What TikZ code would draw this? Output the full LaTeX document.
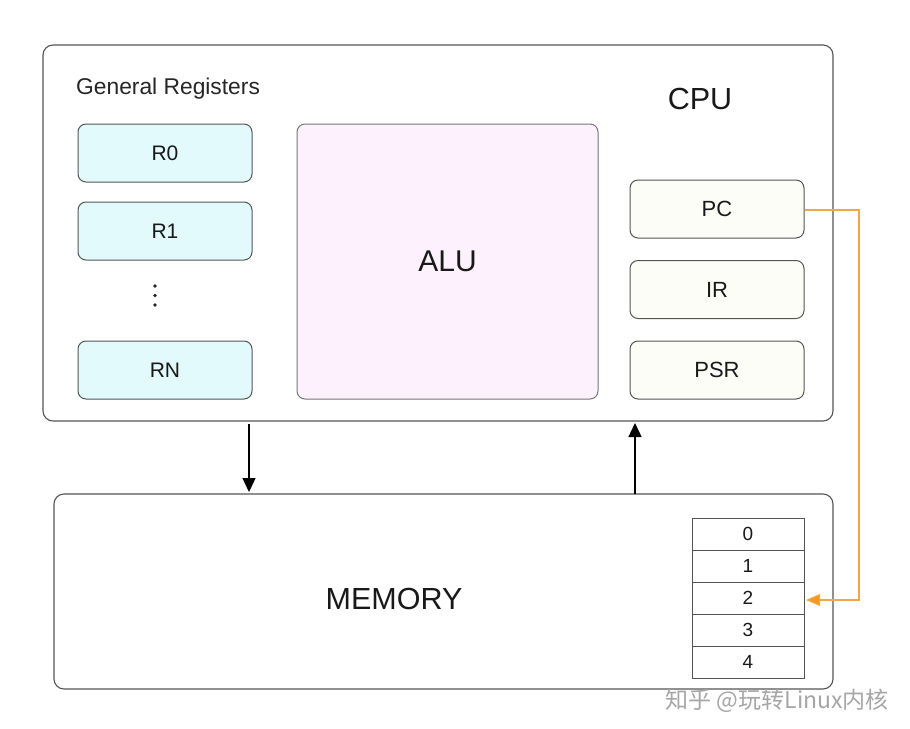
\documentclass[tikz,border=0pt]{standalone}
\usepackage{fontspec}
\setmainfont{Liberation Sans}
\newfontfamily\cjk{Noto Sans CJK SC}
\usetikzlibrary{arrows.meta}
\definecolor{regfill}{HTML}{E2FAFC}
\definecolor{alufill}{HTML}{FCF1FC}
\definecolor{ctlfill}{HTML}{FDFDF8}
\definecolor{edge}{HTML}{555555}
\definecolor{orangeline}{HTML}{F5A64A}
\definecolor{orangetip}{HTML}{F29A1F}
\tikzset{
  outerbox/.style={draw=edge, line width=1.1pt, rounded corners=10pt, fill=white},
  regbox/.style={draw=edge, line width=1pt, rounded corners=8pt, fill=regfill, minimum width=174pt, minimum height=58pt, inner sep=0pt, font=\fontsize{21}{24}\selectfont, text=black!90},
  ctlbox/.style={regbox, fill=ctlfill, font=\fontsize{22}{24}\selectfont},
  alubox/.style={draw=edge!80, line width=1pt, rounded corners=8pt, fill=alufill, minimum width=301pt, minimum height=275pt, inner sep=0pt, font=\fontsize{30}{34}\selectfont, text=black!90},
  cell/.style={draw=edge, line width=1pt, fill=white, minimum width=112pt, minimum height=32pt, inner sep=0pt, font=\fontsize{19}{22}\selectfont, text=black!90},
  bigtxt/.style={font=\fontsize{30.5}{34}\selectfont, text=black!90, inner sep=0pt},
  dot/.style={circle, fill=black!85, inner sep=0pt, minimum size=3.8pt},
  bus/.style={line width=1.4pt, -{Triangle[length=14pt,width=13pt]}},
  pcline/.style={orangeline, line width=1.2pt, -{Triangle[length=14pt,width=12pt,fill=orangetip]}}
}
\begin{document}
\begin{tikzpicture}[x=1pt,y=-1pt]
\useasboundingbox[fill=white] (0,0) rectangle (910,728);
% outer boxes
\node[outerbox, minimum width=790pt, minimum height=376pt, inner sep=0pt] (cpu) at (438,233) {};
\node[outerbox, minimum width=779pt, minimum height=195pt, inner sep=0pt] (mem) at (443.5,591.5) {};
% labels
\node[font=\fontsize{22.8}{26}\selectfont, text=black!85, anchor=west, inner sep=0pt] (gr) at (76,89) {General Registers};
\node[bigtxt] (cpulabel) at (700,99) {CPU};
\node[bigtxt] (memlabel) at (394,599) {MEMORY};
% registers
\node[regbox] (r0) at (165,153) {R0};
\node[regbox] (r1) at (165,231) {R1};
\node[dot] (d1) at (155,286) {};
\node[dot] (d2) at (155,295.5) {};
\node[dot] (d3) at (155,305) {};
\node[regbox] (rn) at (165,370) {RN};
% ALU
\node[alubox] (alu) at (447.5,261.5) {ALU};
% control registers
\node[ctlbox] (pc) at (717,209) {PC};
\node[ctlbox] (ir) at (717,289.5) {IR};
\node[ctlbox] (psr) at (717,370) {PSR};
% memory cells
\node[cell] (m0) at (748,534) {0};
\node[cell] (m1) at (748,566) {1};
\node[cell] (m2) at (748,598) {2};
\node[cell] (m3) at (748,630) {3};
\node[cell] (m4) at (748,662) {4};
% buses
\coordinate (dtop) at (249,424);
\coordinate (dbot) at (249,492);
\coordinate (utop) at (635,423);
\coordinate (ubot) at (635,494);
\draw[bus] (dtop) -- (dbot);
\draw[bus] (ubot) -- (utop);
% PC pointer
\coordinate (c1) at (859,210);
\coordinate (c2) at (859,600);
\coordinate (tipend) at (806,600);
\draw[pcline] (pc.east |- c1) -- (c1) -- (c2) -- (tipend);
% watermark
\node[font=\cjk\fontsize{23}{26}\selectfont, text=black!35, anchor=east, inner sep=0pt] (wm) at (889,701) {知乎 @玩转Linux内核};
\end{tikzpicture}
\end{document}
